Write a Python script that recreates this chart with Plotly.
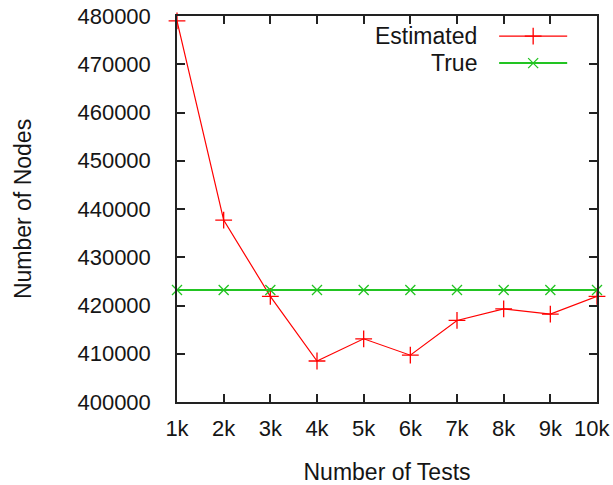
import plotly.graph_objects as go

# Number of tests (in thousands) and node counts
tests = ["1k", "2k", "3k", "4k", "5k", "6k", "7k", "8k", "9k", "10k"]
estimated = [479000, 437700, 421900, 408500, 413100, 409700, 416900, 419300, 418200, 421900]
true_nodes = [423200] * 10

y_ticks = [400000, 410000, 420000, 430000, 440000, 450000, 460000, 470000, 480000]

FONT = "Liberation Sans, Arial, sans-serif"
TXT = "#151515"
RED = "#ff0000"
GREEN = "#22c422"

x_idx = list(range(len(tests)))
# the last tick label is drawn separately, nudged left so it fits on the page
x_labels = tests[:-1] + [""]

fig = go.Figure()
fig.add_trace(go.Scatter(
    x=x_idx, y=estimated, mode="lines+markers", name="Estimated",
    line=dict(color=RED, width=1.2),
    marker=dict(symbol="cross-thin", size=12, line=dict(color=RED, width=1.3)),
    showlegend=False, cliponaxis=False,
))
fig.add_trace(go.Scatter(
    x=x_idx, y=true_nodes, mode="lines+markers", name="True",
    line=dict(color=GREEN, width=2),
    marker=dict(symbol="x-thin", size=10, line=dict(color=GREEN, width=1.3)),
    showlegend=False, cliponaxis=False,
))

fig.add_annotation(
    x=x_idx[-1], y=0, xref="x", yref="paper", text=tests[-1], showarrow=False,
    xanchor="center", yanchor="middle", xshift=-5, yshift=-26,
    font=dict(family=FONT, size=22, color=TXT),
)

# Key drawn on an overlay axis so the sample sits to the right of its label
key_x = [0.767, 0.848, 0.929]
key_rows = [("Estimated", 0.948, RED, "cross-thin", 12, 1.2),
            ("True", 0.878, GREEN, "x-thin", 10, 2)]
for label, ky, col, sym, sz, lw in key_rows:
    fig.add_trace(go.Scatter(
        x=key_x, y=[ky] * 3, xaxis="x2", yaxis="y2", mode="lines",
        line=dict(color=col, width=lw), showlegend=False, hoverinfo="skip",
    ))
    fig.add_trace(go.Scatter(
        x=[key_x[1]], y=[ky], xaxis="x2", yaxis="y2", mode="markers",
        marker=dict(symbol=sym, size=sz, line=dict(color=col, width=1.3)),
        showlegend=False, hoverinfo="skip",
    ))
    fig.add_annotation(
        x=0.720, y=ky, xref="x2", yref="y2", text=label, showarrow=False,
        xanchor="right", yanchor="middle", font=dict(family=FONT, size=23, color=TXT),
    )

axis_common = dict(
    showline=True, linecolor="#222", linewidth=1.5, mirror="ticks",
    ticks="inside", ticklen=8, tickcolor="#222", tickwidth=1.5,
    showgrid=False, zeroline=False, automargin=False,
    tickfont=dict(family=FONT, size=22, color=TXT),
)

fig.update_layout(
    width=613, height=485,
    margin=dict(l=177, r=16, t=16, b=83),
    paper_bgcolor="white", plot_bgcolor="white",
    xaxis=dict(
        range=[0, 9], tickvals=x_idx, ticktext=x_labels, ticklabelstandoff=6,
        title=dict(text="Number of Tests", font=dict(family=FONT, size=23, color=TXT), standoff=26),
        **axis_common,
    ),
    yaxis=dict(
        range=[400000, 480000], tickvals=y_ticks, ticktext=[str(v) for v in y_ticks],
        ticklabelstandoff=20,
        title=dict(text="Number of Nodes", font=dict(family=FONT, size=23, color=TXT), standoff=39),
        **axis_common,
    ),
    xaxis2=dict(overlaying="x", range=[0, 1], visible=False),
    yaxis2=dict(overlaying="y", range=[0, 1], visible=False),
)

fig.write_html("out.html")
